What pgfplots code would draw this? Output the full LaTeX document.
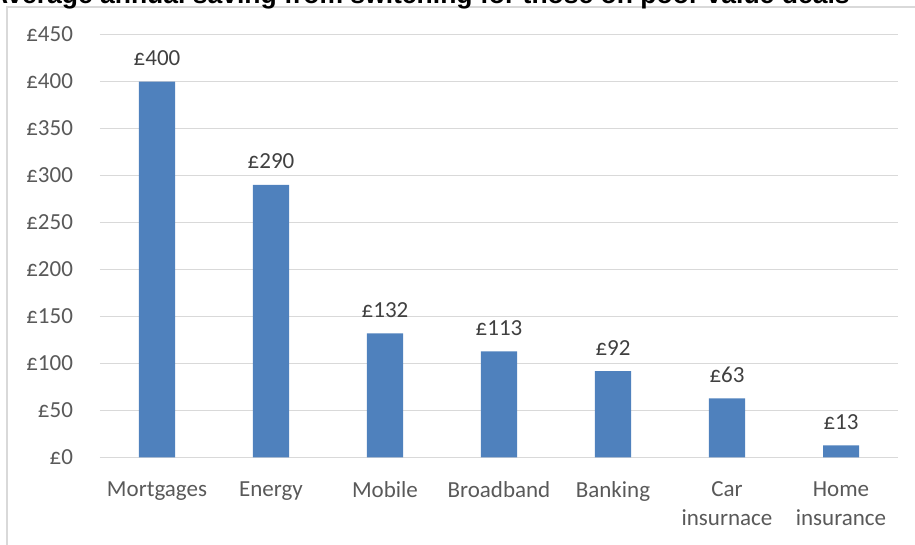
\documentclass[border=0pt]{standalone}
\usepackage{fontspec}
\usepackage{pgfplots}
\pgfplotsset{compat=1.18}
\setmainfont{Carlito}
\newfontfamily\titlefont{Liberation Sans}
\definecolor{barblue}{HTML}{4F81BD}
\definecolor{gridgray}{HTML}{D9D9D9}
\definecolor{ticktext}{HTML}{595959}
\definecolor{labeltext}{HTML}{404040}

% 1 px of the reference = 0.5pt
\begin{document}
\begin{tikzpicture}
\path[use as bounding box] (0pt,0pt) rectangle (457.5pt,272.5pt);
\begin{scope}[overlay]
% chart frame, runs off the right and bottom edge
\draw[gridgray, line width=0.6pt] (3.5pt,-5pt) -- (3.5pt,269pt) -- (465pt,269pt);
% title, cut off at the top as in the original
\node[anchor=base east, inner sep=0pt, font={\titlefont\bfseries\fontsize{13.25}{15}\selectfont}]
    at (425pt,270.5pt) {Average annual saving from switching for those on poor value deals};
\end{scope}

\begin{axis}[
    at={(50pt,43.75pt)}, anchor=south west,
    scale only axis,
    width=399pt, height=211.5pt,
    xmin=-0.5, xmax=6.5,
    ymin=0, ymax=450,
    ytick={0,50,...,450},
    xtick={0,1,2,3,4,5,6},
    xticklabels={Mortgages, Energy, Mobile, Broadband, Banking, Car\\insurnace, Home\\insurance},
    /pgf/number format/assume math mode=true,
    yticklabel={£\pgfmathprintnumber{\tick}},
    axis line style={draw=none},
    major tick length=0pt,
    ymajorgrids,
    major grid style={draw=gridgray, line width=0.7pt},
    tick label style={font=\fontsize{11.5}{14.5}\selectfont, text=ticktext},
    yticklabel style={xshift=-10pt},
    xticklabel style={align=center, yshift=-8.5pt},
    clip=false,
]
\addplot[ybar, bar width=18pt, fill=barblue, draw=none,
    nodes near coords={£\pgfmathprintnumber[assume math mode=true]{\pgfplotspointmeta}},
    every node near coord/.append style={anchor=base, yshift=8pt, inner sep=0pt,
        font=\fontsize{11.5}{14.5}\selectfont, text=labeltext}]
coordinates {(0,400) (1,290) (2,132) (3,113) (4,92) (5,63) (6,13)};
\end{axis}
\end{tikzpicture}
\end{document}
